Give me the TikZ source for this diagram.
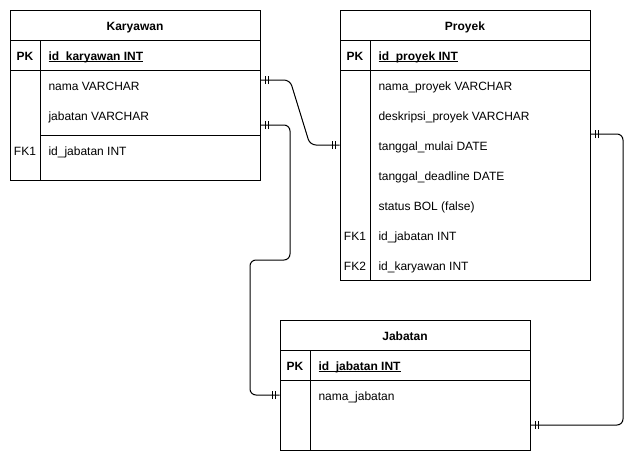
\documentclass[tikz,border=0pt]{standalone}
\usepackage{fontspec}
\setmainfont{Liberation Sans}
\usetikzlibrary{decorations.markings}
\newcommand\pkul[1]{\setbox0=\hbox{#1}\rlap{\rule[-1.8pt]{\wd0}{0.9pt}}\box0}
\begin{document}
\begin{tikzpicture}[x=1pt,y=-1pt,line width=1pt,
  tbl/.style={draw,rectangle,inner sep=0pt,minimum width=250pt},
  txt/.style={inner sep=0pt,font=\fontsize{12}{14}\selectfont},
  fld/.style={txt,anchor=base west},
  keyc/.style={txt,anchor=base},
  ttl/.style={txt,anchor=base,font=\fontsize{12}{14}\selectfont\bfseries},
  onetick/.style={},
  rel/.style={draw,rounded corners=6pt,
    decoration={markings,
      mark=at position 4.5pt with {\draw[line width=1pt,sharp corners] (0pt,-4pt) -- (0pt,4pt);},
      mark=at position 7.5pt with {\draw[line width=1pt,sharp corners] (0pt,-4pt) -- (0pt,4pt);},
      mark=at position -4.5pt with {\draw[line width=1pt,sharp corners] (0pt,-4pt) -- (0pt,4pt);},
      mark=at position -7.5pt with {\draw[line width=1pt,sharp corners] (0pt,-4pt) -- (0pt,4pt);}},
    postaction={decorate}}]
\useasboundingbox (0,0) rectangle (643,461);

% ---------- Karyawan ----------
\node[tbl,minimum height=170pt] (kar) at (135,95) {};
\draw (10,40) -- (260,40);
\draw (10,70) -- (260,70);
\draw (40,40) -- (40,180);
\draw (40,135) -- (260,135);
\node[ttl] (karT) at (135,30.5) {Karyawan};
\node[keyc,font=\fontsize{12}{14}\selectfont\bfseries] (karPK) at (25,60.5) {PK};
\node[fld,font=\fontsize{12}{14}\selectfont\bfseries] (karId) at (48,60.5) {\pkul{id\_karyawan INT}};
\node[fld] (karNama) at (48,90.5) {nama VARCHAR};
\node[fld] (karJab) at (48,120.5) {jabatan VARCHAR};
\node[keyc] (karFK) at (25,155.5) {FK1};
\node[fld] (karIdJ) at (48,155.5) {id\_jabatan INT};

% ---------- Proyek ----------
\node[tbl,minimum height=270pt] (proy) at (465,145) {};
\draw (340,40) -- (590,40);
\draw (340,70) -- (590,70);
\draw (370,40) -- (370,280);
\node[ttl] (proyT) at (465,30.5) {Proyek};
\node[keyc,font=\fontsize{12}{14}\selectfont\bfseries] (proyPK) at (355,60.5) {PK};
\node[fld,font=\fontsize{12}{14}\selectfont\bfseries] (proyId) at (378,60.5) {\pkul{id\_proyek INT}};
\node[fld] (proyNama) at (378,90.5) {nama\_proyek VARCHAR};
\node[fld] (proyDesk) at (378,120.5) {deskripsi\_proyek VARCHAR};
\node[fld] (proyMulai) at (378,150.5) {tanggal\_mulai DATE};
\node[fld] (proyDead) at (378,180.5) {tanggal\_deadline DATE};
\node[fld] (proyStat) at (378,210.5) {status BOL (false)};
\node[keyc] (proyFK1) at (355,240.5) {FK1};
\node[fld] (proyIdJ) at (378,240.5) {id\_jabatan INT};
\node[keyc] (proyFK2) at (355,270.5) {FK2};
\node[fld] (proyIdK) at (378,270.5) {id\_karyawan INT};

% ---------- Jabatan ----------
\node[tbl,minimum height=130pt] (jab) at (405,385) {};
\draw (280,350) -- (530,350);
\draw (280,380) -- (530,380);
\draw (310,350) -- (310,450);
\node[ttl] (jabT) at (405,340.5) {Jabatan};
\node[keyc,font=\fontsize{12}{14}\selectfont\bfseries] (jabPK) at (295,370.5) {PK};
\node[fld,font=\fontsize{12}{14}\selectfont\bfseries] (jabId) at (318,370.5) {\pkul{id\_jabatan INT}};
\node[fld] (jabNama) at (318,400.5) {nama\_jabatan};

% ---------- connection points ----------
\coordinate (k1) at (kar.east |- 0,80);
\coordinate (k2) at (kar.east |- 0,125);
\coordinate (p1) at (proy.west |- 0,145);
\coordinate (p2) at (proy.east |- 0,134);
\coordinate (j1) at (jab.west |- 0,395);
\coordinate (j2) at (jab.east |- 0,425);

% ---------- relations ----------
\draw[rel] (k1) -- (290,80) -- (310,145) -- (p1);
\draw[rel] (k2) -- (290,125) -- (290,260) -- (250,260) -- (250,395) -- (j1);
\draw[rel] (p2) -- (623,134) -- (623,425) -- (j2);
\end{tikzpicture}
\end{document}
